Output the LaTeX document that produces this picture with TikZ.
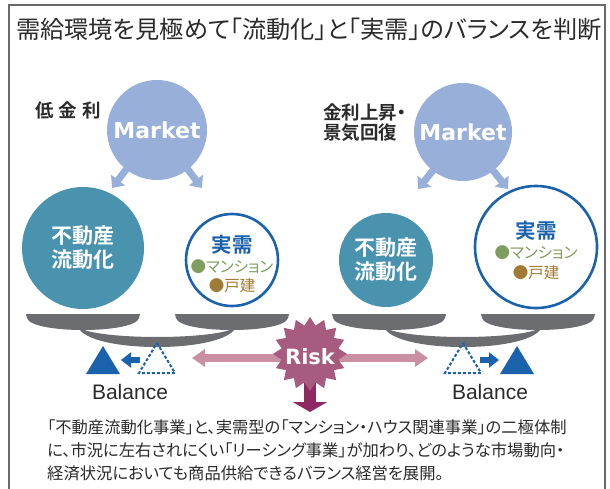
\documentclass[tikz,border=0pt]{standalone}
\usepackage{fontspec}
\usetikzlibrary{shapes.geometric,arrows.meta}
\newfontfamily\jp{Noto Sans CJK JP}[RawFeature={+palt},BoldFont={Noto Sans CJK JP Bold}]
\newfontfamily\dvs{DejaVu Sans}
\newfontfamily\lib{Liberation Sans}
\definecolor{mkt}{HTML}{98AFDA}
\definecolor{tealc}{HTML}{4A93AF}
\definecolor{jblue}{HTML}{1B62AD}
\definecolor{jgreen}{HTML}{7E9D5F}
\definecolor{jbrown}{HTML}{9F7B36}
\definecolor{pangray}{HTML}{6C6D70}
\definecolor{pinkc}{HTML}{C98FA3}
\definecolor{riskc}{HTML}{A65B7F}
\definecolor{downc}{HTML}{8E2961}
\definecolor{txt}{HTML}{2B2B2B}
\definecolor{framec}{HTML}{6A6A6A}
\tikzset{
  mktc/.style={circle,fill=mkt,text=white,inner sep=0pt,font=\dvs\bfseries\fontsize{22}{22}\selectfont},
  mktarrow/.style={draw=mkt,line width=7pt,shorten <=-6pt,-{Triangle[width=17pt,length=10pt]}},
  fluid/.style={circle,fill=tealc,text=white,inner sep=0pt,align=center,font=\jp\bfseries\fontsize{21}{24}\selectfont},
  jitsu/.style={circle,draw=jblue,line width=2.6pt,fill=white,inner sep=0pt},
  jtitle/.style={text=jblue,inner sep=0pt,font=\jp\bfseries\fontsize{20.5}{20.5}\selectfont},
  jitem/.style={inner sep=0pt,font=\jp\fontsize{15.5}{15.5}\selectfont},
  bluearr/.style={draw=jblue,line width=6.5pt,-{Triangle[width=15pt,length=10pt]}},
  pinkarrow/.style={draw=pinkc,line width=8pt,{Triangle[width=17pt,length=13pt]}-{Triangle[width=17pt,length=13pt]}},
  downarr/.style={draw=downc,line width=12pt,-{Triangle[width=34pt,length=10pt]}},
  dashtri/.style={draw=jblue,line width=2pt,dash pattern=on 3pt off 2pt},
  labeltext/.style={inner sep=0pt,text=txt,font=\jp\bfseries\fontsize{18.5}{18.5}\selectfont},
  desctext/.style={inner sep=0pt,text=txt,anchor=base west,font=\jp\fontsize{16.3}{16.3}\selectfont},
  baltext/.style={inner sep=0pt,text=txt,font=\lib\fontsize{21}{21}\selectfont},
  pan/.pic={\fill[pangray] (-57,0) -- (57,0) -- (56,4) .. controls (52,20) and (-52,20) .. (-56,4) -- cycle;},
  beam/.pic={\fill[pangray] (-79,-19) .. controls (-68,7.7) and (68,7.7) .. (79,-19) .. controls (62,-5.7) and (-62,-5.7) .. (-79,-19) -- cycle;}
}
\begin{document}
\begin{tikzpicture}[x=1pt,y=-1pt]
\useasboundingbox (0,0) rectangle (610,488);
\fill[white] (0,0) rectangle (610,488);
\draw[framec,line width=1.4pt] (9,495) -- (9,5) -- (605,5) -- (605,495);
% title
\node[anchor=base,inner sep=0pt,text=txt,font=\jp\fontsize{24.2}{24.2}\selectfont] (title) at (309,38) {需給環境を見極めて「流動化」と「実需」のバランスを判断};
% labels
\node[labeltext,anchor=base west] (lowrate) at (35,117) {低\hspace{5pt}金\hspace{5pt}利};
\node[labeltext,anchor=base west] (up1) at (323,119) {金利上昇・};
\node[labeltext,anchor=base west] (up2) at (323,139) {景気回復};
% market circles
\node[mktc,minimum size=100pt] (mkL) at (157,130) {Market};
\node[mktc,minimum size=98pt] (mkR) at (463,132) {Market};
\coordinate (mkLa) at (112,188);
\coordinate (mkLb) at (202,188);
\coordinate (mkRa) at (418,189);
\coordinate (mkRb) at (508,189);
\draw[mktarrow] (mkL.232) -- (mkLa);
\draw[mktarrow] (mkL.308) -- (mkLb);
\draw[mktarrow] (mkR.232) -- (mkRa);
\draw[mktarrow] (mkR.308) -- (mkRb);
% scales
\pic at (157,346) {beam};
\pic at (463,346) {beam};
\pic at (83,314) {pan};
\pic at (232,314) {pan};
\pic at (389,314) {pan};
\pic at (538,314) {pan};
% circles on pans
\node[fluid,minimum size=122pt] (flL) at (83,248) {不動産\\流動化};
\node[fluid,minimum size=94pt] (flR) at (386,260) {不動産\\流動化};
\node[jitsu,minimum size=92pt] (jjL) at (232,260) {};
\node[jtitle] (jjLt) at (232,245) {実需};
\node[jitem,text=jgreen] (jjLm) at (232,267) {●マンション};
\node[jitem,text=jbrown] (jjLk) at (232,286) {●戸建};
\node[jitsu,minimum size=122pt] (jjR) at (536,247) {};
\node[jtitle] (jjRt) at (536,231) {実需};
\node[jitem,text=jgreen] (jjRm) at (536,253) {●マンション};
\node[jitem,text=jbrown] (jjRk) at (536,273) {●戸建};
% fulcrums
\fill[jblue] (103,346) -- (120,374) -- (86,374) -- cycle;
\draw[dashtri] (157,343) -- (175,373) -- (139,373) -- cycle;
\fill[jblue] (517,346) -- (534,374) -- (500,374) -- cycle;
\draw[dashtri] (463,343) -- (481,373) -- (445,373) -- cycle;
\coordinate (baL0) at (140,360);
\coordinate (baL1) at (121,360);
\coordinate (baR0) at (480,360);
\coordinate (baR1) at (499,360);
\draw[bluearr] (baL0) -- (baL1);
\draw[bluearr] (baR0) -- (baR1);
% risk
\coordinate (pkL) at (192,358);
\coordinate (pkR) at (428,358);
\draw[pinkarrow] (pkL) -- (pkR);
\coordinate (dtip) at (310,412);
\coordinate (dstart) at (310,370);
\draw[downarr] (dstart) -- (dtip);
\node[star,star points=16,star point ratio=1.28,minimum size=74pt,fill=riskc,inner sep=0pt] (risk) at (310,354) {};
\node[inner sep=0pt,text=white,font=\dvs\bfseries\fontsize{21}{21}\selectfont] (risktxt) at (310,357) {Risk};
% balance
\node[baltext] (balL) at (130,392) {Balance};
\node[baltext] (balR) at (490,392) {Balance};
% description
\node[desctext] (d1) at (47,433) {「不動産流動化事業」と、実需型の「マンション・ハウス関連事業」の二極体制};
\node[desctext] (d2) at (47,456) {に、市況に左右されにくい「リーシング事業」が加わり、どのような市場動向・};
\node[desctext] (d3) at (47,479) {経済状況においても商品供給できるバランス経営を展開。};
\end{tikzpicture}
\end{document}
